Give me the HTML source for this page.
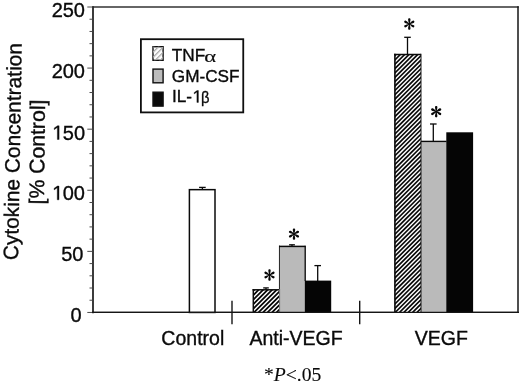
<!DOCTYPE html>
<html><head><meta charset="utf-8">
<style>
html,body{margin:0;padding:0;background:#fff;}
body{width:520px;height:384px;overflow:hidden;}
svg{display:block;will-change:transform;}
text{font-family:"Liberation Sans",sans-serif;fill:#0a0a0a;stroke:#0a0a0a;stroke-width:0.35px;}
.serif{font-family:"Liberation Serif",serif;stroke-width:0.12px;}
</style></head>
<body>
<svg width="520" height="384" viewBox="0 0 520 384">
<defs>
<pattern id="hL" width="3.6" height="20" patternUnits="userSpaceOnUse" patternTransform="rotate(45) translate(0.5,0)"><rect x="0" y="0" width="1.3" height="20" fill="#aaa"/></pattern>
</defs>
<g stroke="#151515" fill="none">
<line x1="92.1" y1="7.0" x2="518.75" y2="7.0" stroke-width="1.5" stroke="#333"/>
<line x1="518" y1="6.2" x2="518" y2="313.1" stroke-width="1.5"/>
<line x1="93" y1="6.2" x2="93" y2="313.2" stroke-width="1.8" stroke="#262626"/>
<line x1="92.1" y1="312.45" x2="518.75" y2="312.45" stroke-width="1.3"/>
</g>
<g stroke="#4a4a4a" stroke-width="1.0">
<line x1="87.3" y1="312.45" x2="92.5" y2="312.45"/>
<line x1="89.5" y1="300.23" x2="92.5" y2="300.23"/>
<line x1="89.5" y1="288.01" x2="92.5" y2="288.01"/>
<line x1="89.5" y1="275.80" x2="92.5" y2="275.80"/>
<line x1="89.5" y1="263.58" x2="92.5" y2="263.58"/>
<line x1="87.3" y1="251.36" x2="92.5" y2="251.36"/>
<line x1="89.5" y1="239.14" x2="92.5" y2="239.14"/>
<line x1="89.5" y1="226.92" x2="92.5" y2="226.92"/>
<line x1="89.5" y1="214.71" x2="92.5" y2="214.71"/>
<line x1="89.5" y1="202.49" x2="92.5" y2="202.49"/>
<line x1="87.3" y1="190.27" x2="92.5" y2="190.27"/>
<line x1="89.5" y1="178.05" x2="92.5" y2="178.05"/>
<line x1="89.5" y1="165.83" x2="92.5" y2="165.83"/>
<line x1="89.5" y1="153.62" x2="92.5" y2="153.62"/>
<line x1="89.5" y1="141.40" x2="92.5" y2="141.40"/>
<line x1="87.3" y1="129.18" x2="92.5" y2="129.18"/>
<line x1="89.5" y1="116.96" x2="92.5" y2="116.96"/>
<line x1="89.5" y1="104.74" x2="92.5" y2="104.74"/>
<line x1="89.5" y1="92.53" x2="92.5" y2="92.53"/>
<line x1="89.5" y1="80.31" x2="92.5" y2="80.31"/>
<line x1="87.3" y1="68.09" x2="92.5" y2="68.09"/>
<line x1="89.5" y1="55.87" x2="92.5" y2="55.87"/>
<line x1="89.5" y1="43.65" x2="92.5" y2="43.65"/>
<line x1="89.5" y1="31.44" x2="92.5" y2="31.44"/>
<line x1="89.5" y1="19.22" x2="92.5" y2="19.22"/>
<line x1="87.3" y1="7.00" x2="92.5" y2="7.00"/>
</g>
<g font-size="20" text-anchor="end">
<text x="85.0" y="16.9">250</text>
<text x="85.0" y="77.6">200</text>
<path d="M575 0V1237L257 1010V1180L590 1409H756V0Z" transform="translate(51.73,139.5) scale(0.009766,-0.009766)" fill="#0a0a0a" stroke="#0a0a0a" stroke-width="35.8"/>
<text x="85.1" y="139.5">50</text>
<path d="M575 0V1237L257 1010V1180L590 1409H756V0Z" transform="translate(51.63,199.8) scale(0.009766,-0.009766)" fill="#0a0a0a" stroke="#0a0a0a" stroke-width="35.8"/>
<text x="85.0" y="199.8">00</text>
<text x="83.5" y="261.2">50</text>
<text x="81.7" y="322.2">0</text>
</g>
<g font-size="20.9" text-anchor="middle">
<text transform="translate(19.9,151.8) rotate(-89.05)">Cytokine Concentration</text>
<text transform="translate(44.5,152.1) rotate(-89.4)" font-size="21.2">[% Control]</text>
</g>
<g stroke="#151515" stroke-width="1.4">
<line x1="232" y1="300.8" x2="232" y2="324.3"/>
<line x1="359.7" y1="300.8" x2="359.7" y2="324.3"/>
</g>
<line x1="202.4" y1="187.4" x2="202.4" y2="189.7" stroke="#0a0a0a" stroke-width="1.3"/><line x1="199.10" y1="187.4" x2="205.70" y2="187.4" stroke="#0a0a0a" stroke-width="1.3"/>
<rect x="189.4" y="189.65" width="25.60" height="122.80" fill="#fff" stroke="#0a0a0a" stroke-width="1.5"/>
<line x1="266.0" y1="287.9" x2="266.0" y2="289.8" stroke="#0a0a0a" stroke-width="1.3"/><line x1="263.20" y1="287.9" x2="268.80" y2="287.9" stroke="#0a0a0a" stroke-width="1.3"/>
<line x1="292.0" y1="244.8" x2="292.0" y2="246.4" stroke="#0a0a0a" stroke-width="1.3"/><line x1="289.10" y1="244.8" x2="294.90" y2="244.8" stroke="#0a0a0a" stroke-width="1.3"/>
<line x1="317.7" y1="265.6" x2="317.7" y2="281.0" stroke="#0a0a0a" stroke-width="1.3"/><line x1="314.40" y1="265.6" x2="321.00" y2="265.6" stroke="#0a0a0a" stroke-width="1.3"/>
<g clip-path="url(#cA)"><rect x="253.30" y="289.80" width="26.10" height="22.65" fill="#080808"/><path d="M222.750,314.450L249.400,287.800M227.250,314.450L253.900,287.800M231.750,314.450L258.400,287.800M236.250,314.450L262.900,287.800M240.750,314.450L267.400,287.800M245.250,314.450L271.900,287.800M249.750,314.450L276.400,287.800M254.250,314.450L280.900,287.800M258.750,314.450L285.400,287.800M263.250,314.450L289.900,287.800M267.750,314.450L294.400,287.800M272.250,314.450L298.900,287.800M276.750,314.450L303.400,287.800M281.250,314.450L307.900,287.800M285.750,314.450L312.400,287.800" stroke="#fff" stroke-width="1.432" fill="none"/></g>
<rect x="279.40" y="246.40" width="26.20" height="66.05" fill="#bababa"/>
<rect x="304.85" y="280.60" width="26.35" height="31.85" fill="#050505"/>
<line x1="253.30" y1="289.05" x2="253.30" y2="312.45" stroke="#0a0a0a" stroke-width="1.5"/>
<line x1="252.55" y1="289.80" x2="279.40" y2="289.80" stroke="#0a0a0a" stroke-width="1.5"/>
<line x1="279.45" y1="245.65" x2="279.45" y2="289.00" stroke="#222" stroke-width="1.0"/>
<line x1="279.60" y1="289.00" x2="279.60" y2="312.45" stroke="#666" stroke-width="0.9"/>
<line x1="279.00" y1="246.40" x2="305.60" y2="246.40" stroke="#0a0a0a" stroke-width="1.5"/>
<line x1="305.20" y1="245.65" x2="305.20" y2="281.00" stroke="#0a0a0a" stroke-width="1.3"/>
<line x1="407.5" y1="37.3" x2="407.5" y2="54.5" stroke="#0a0a0a" stroke-width="1.3"/><line x1="404.20" y1="37.3" x2="410.80" y2="37.3" stroke="#0a0a0a" stroke-width="1.3"/>
<line x1="433.3" y1="124.0" x2="433.3" y2="141.4" stroke="#0a0a0a" stroke-width="1.3"/><line x1="430.00" y1="124.0" x2="436.60" y2="124.0" stroke="#0a0a0a" stroke-width="1.3"/>
<g clip-path="url(#cV)"><rect x="394.90" y="54.50" width="26.10" height="257.95" fill="#080808"/><path d="M129.476,314.450L391.426,52.500M133.834,314.450L395.784,52.500M138.192,314.450L400.142,52.500M142.550,314.450L404.500,52.500M146.908,314.450L408.858,52.500M151.266,314.450L413.216,52.500M155.624,314.450L417.574,52.500M159.982,314.450L421.932,52.500M164.340,314.450L426.290,52.500M168.698,314.450L430.648,52.500M173.056,314.450L435.006,52.500M177.414,314.450L439.364,52.500M181.772,314.450L443.722,52.500M186.130,314.450L448.080,52.500M190.488,314.450L452.438,52.500M194.846,314.450L456.796,52.500M199.204,314.450L461.154,52.500M203.562,314.450L465.512,52.500M207.920,314.450L469.870,52.500M212.278,314.450L474.228,52.500M216.636,314.450L478.586,52.500M220.994,314.450L482.944,52.500M225.352,314.450L487.302,52.500M229.710,314.450L491.660,52.500M234.068,314.450L496.018,52.500M238.426,314.450L500.376,52.500M242.784,314.450L504.734,52.500M247.142,314.450L509.092,52.500M251.500,314.450L513.450,52.500M255.858,314.450L517.808,52.500M260.216,314.450L522.166,52.500M264.574,314.450L526.524,52.500M268.932,314.450L530.882,52.500M273.290,314.450L535.240,52.500M277.648,314.450L539.598,52.500M282.006,314.450L543.956,52.500M286.364,314.450L548.314,52.500M290.722,314.450L552.672,52.500M295.080,314.450L557.030,52.500M299.438,314.450L561.388,52.500M303.796,314.450L565.746,52.500M308.154,314.450L570.104,52.500M312.512,314.450L574.462,52.500M316.870,314.450L578.820,52.500M321.228,314.450L583.178,52.500M325.586,314.450L587.536,52.500M329.944,314.450L591.894,52.500M334.302,314.450L596.252,52.500M338.660,314.450L600.610,52.500M343.018,314.450L604.968,52.500M347.376,314.450L609.326,52.500M351.734,314.450L613.684,52.500M356.092,314.450L618.042,52.500M360.450,314.450L622.400,52.500M364.808,314.450L626.758,52.500M369.166,314.450L631.116,52.500M373.524,314.450L635.474,52.500M377.882,314.450L639.832,52.500M382.240,314.450L644.190,52.500M386.598,314.450L648.548,52.500M390.956,314.450L652.906,52.500M395.314,314.450L657.264,52.500M399.672,314.450L661.622,52.500M404.030,314.450L665.980,52.500M408.388,314.450L670.338,52.500M412.746,314.450L674.696,52.500M417.104,314.450L679.054,52.500M421.462,314.450L683.412,52.500M425.820,314.450L687.770,52.500" stroke="#fff" stroke-width="1.418" fill="none"/></g>
<rect x="421.00" y="141.40" width="25.60" height="171.05" fill="#bababa"/>
<rect x="446.30" y="132.30" width="26.80" height="180.15" fill="#050505"/>
<line x1="394.90" y1="53.70" x2="394.90" y2="312.45" stroke="#0a0a0a" stroke-width="1.6"/>
<line x1="394.10" y1="54.50" x2="421.00" y2="54.50" stroke="#0a0a0a" stroke-width="1.5"/>
<line x1="421.00" y1="53.75" x2="421.00" y2="312.45" stroke="#1a1a1a" stroke-width="1.0"/>
<line x1="420.80" y1="141.40" x2="446.60" y2="141.40" stroke="#0a0a0a" stroke-width="1.4"/>
<line x1="92.1" y1="312.45" x2="518.75" y2="312.45" stroke="#151515" stroke-width="1.3"/>
<g transform="translate(269.5,275.0) scale(1.0)" fill="#080808"><circle r="0.95"/><path d="M-0.42,0 C-0.6,-1.6 -1.25,-3.3 -1.18,-4.65 C-1.1,-6.05 1.1,-6.05 1.18,-4.65 C1.25,-3.3 0.6,-1.6 0.42,0 Z" transform="rotate(0)"/><path d="M-0.42,0 C-0.6,-1.6 -1.25,-3.3 -1.18,-4.65 C-1.1,-6.05 1.1,-6.05 1.18,-4.65 C1.25,-3.3 0.6,-1.6 0.42,0 Z" transform="rotate(60)"/><path d="M-0.42,0 C-0.6,-1.6 -1.25,-3.3 -1.18,-4.65 C-1.1,-6.05 1.1,-6.05 1.18,-4.65 C1.25,-3.3 0.6,-1.6 0.42,0 Z" transform="rotate(120)"/><path d="M-0.42,0 C-0.6,-1.6 -1.25,-3.3 -1.18,-4.65 C-1.1,-6.05 1.1,-6.05 1.18,-4.65 C1.25,-3.3 0.6,-1.6 0.42,0 Z" transform="rotate(180)"/><path d="M-0.42,0 C-0.6,-1.6 -1.25,-3.3 -1.18,-4.65 C-1.1,-6.05 1.1,-6.05 1.18,-4.65 C1.25,-3.3 0.6,-1.6 0.42,0 Z" transform="rotate(240)"/><path d="M-0.42,0 C-0.6,-1.6 -1.25,-3.3 -1.18,-4.65 C-1.1,-6.05 1.1,-6.05 1.18,-4.65 C1.25,-3.3 0.6,-1.6 0.42,0 Z" transform="rotate(300)"/></g>
<g transform="translate(294.0,234.1) scale(1.0)" fill="#080808"><circle r="0.95"/><path d="M-0.42,0 C-0.6,-1.6 -1.25,-3.3 -1.18,-4.65 C-1.1,-6.05 1.1,-6.05 1.18,-4.65 C1.25,-3.3 0.6,-1.6 0.42,0 Z" transform="rotate(0)"/><path d="M-0.42,0 C-0.6,-1.6 -1.25,-3.3 -1.18,-4.65 C-1.1,-6.05 1.1,-6.05 1.18,-4.65 C1.25,-3.3 0.6,-1.6 0.42,0 Z" transform="rotate(60)"/><path d="M-0.42,0 C-0.6,-1.6 -1.25,-3.3 -1.18,-4.65 C-1.1,-6.05 1.1,-6.05 1.18,-4.65 C1.25,-3.3 0.6,-1.6 0.42,0 Z" transform="rotate(120)"/><path d="M-0.42,0 C-0.6,-1.6 -1.25,-3.3 -1.18,-4.65 C-1.1,-6.05 1.1,-6.05 1.18,-4.65 C1.25,-3.3 0.6,-1.6 0.42,0 Z" transform="rotate(180)"/><path d="M-0.42,0 C-0.6,-1.6 -1.25,-3.3 -1.18,-4.65 C-1.1,-6.05 1.1,-6.05 1.18,-4.65 C1.25,-3.3 0.6,-1.6 0.42,0 Z" transform="rotate(240)"/><path d="M-0.42,0 C-0.6,-1.6 -1.25,-3.3 -1.18,-4.65 C-1.1,-6.05 1.1,-6.05 1.18,-4.65 C1.25,-3.3 0.6,-1.6 0.42,0 Z" transform="rotate(300)"/></g>
<g transform="translate(409.3,24.0) scale(1.0)" fill="#080808"><circle r="0.95"/><path d="M-0.42,0 C-0.6,-1.6 -1.25,-3.3 -1.18,-4.65 C-1.1,-6.05 1.1,-6.05 1.18,-4.65 C1.25,-3.3 0.6,-1.6 0.42,0 Z" transform="rotate(0)"/><path d="M-0.42,0 C-0.6,-1.6 -1.25,-3.3 -1.18,-4.65 C-1.1,-6.05 1.1,-6.05 1.18,-4.65 C1.25,-3.3 0.6,-1.6 0.42,0 Z" transform="rotate(60)"/><path d="M-0.42,0 C-0.6,-1.6 -1.25,-3.3 -1.18,-4.65 C-1.1,-6.05 1.1,-6.05 1.18,-4.65 C1.25,-3.3 0.6,-1.6 0.42,0 Z" transform="rotate(120)"/><path d="M-0.42,0 C-0.6,-1.6 -1.25,-3.3 -1.18,-4.65 C-1.1,-6.05 1.1,-6.05 1.18,-4.65 C1.25,-3.3 0.6,-1.6 0.42,0 Z" transform="rotate(180)"/><path d="M-0.42,0 C-0.6,-1.6 -1.25,-3.3 -1.18,-4.65 C-1.1,-6.05 1.1,-6.05 1.18,-4.65 C1.25,-3.3 0.6,-1.6 0.42,0 Z" transform="rotate(240)"/><path d="M-0.42,0 C-0.6,-1.6 -1.25,-3.3 -1.18,-4.65 C-1.1,-6.05 1.1,-6.05 1.18,-4.65 C1.25,-3.3 0.6,-1.6 0.42,0 Z" transform="rotate(300)"/></g>
<g transform="translate(436.2,111.7) scale(1.0)" fill="#080808"><circle r="0.95"/><path d="M-0.42,0 C-0.6,-1.6 -1.25,-3.3 -1.18,-4.65 C-1.1,-6.05 1.1,-6.05 1.18,-4.65 C1.25,-3.3 0.6,-1.6 0.42,0 Z" transform="rotate(0)"/><path d="M-0.42,0 C-0.6,-1.6 -1.25,-3.3 -1.18,-4.65 C-1.1,-6.05 1.1,-6.05 1.18,-4.65 C1.25,-3.3 0.6,-1.6 0.42,0 Z" transform="rotate(60)"/><path d="M-0.42,0 C-0.6,-1.6 -1.25,-3.3 -1.18,-4.65 C-1.1,-6.05 1.1,-6.05 1.18,-4.65 C1.25,-3.3 0.6,-1.6 0.42,0 Z" transform="rotate(120)"/><path d="M-0.42,0 C-0.6,-1.6 -1.25,-3.3 -1.18,-4.65 C-1.1,-6.05 1.1,-6.05 1.18,-4.65 C1.25,-3.3 0.6,-1.6 0.42,0 Z" transform="rotate(180)"/><path d="M-0.42,0 C-0.6,-1.6 -1.25,-3.3 -1.18,-4.65 C-1.1,-6.05 1.1,-6.05 1.18,-4.65 C1.25,-3.3 0.6,-1.6 0.42,0 Z" transform="rotate(240)"/><path d="M-0.42,0 C-0.6,-1.6 -1.25,-3.3 -1.18,-4.65 C-1.1,-6.05 1.1,-6.05 1.18,-4.65 C1.25,-3.3 0.6,-1.6 0.42,0 Z" transform="rotate(300)"/></g>
<rect x="140.9" y="39.2" width="102.35" height="73.2" fill="#fff" stroke="#0f0f0f" stroke-width="1.8"/>
<rect x="153.0" y="46.7" width="10.1" height="13.6" fill="#fff" stroke="#0f0f0f" stroke-width="1.4"/>
<rect x="153.0" y="46.7" width="10.1" height="13.6" fill="url(#hL)"/>
<rect x="153.0" y="69.1" width="10.1" height="13.7" fill="#bcbcbc" stroke="#0f0f0f" stroke-width="1.4"/>
<rect x="153.0" y="92.2" width="10.1" height="13.9" fill="#0a0a0a" stroke="#0f0f0f" stroke-width="1.4"/>
<g font-size="17.2">
<text x="171.8" y="61.4">TNF</text>
<text class="serif" font-size="17.5" transform="translate(204.2,61.7) scale(1.3,0.97)">α</text>
<text x="171.8" y="81.8">GM-CSF</text>
<text x="172.0" y="102.4">IL-</text>
<path d="M575 0V1237L257 1010V1180L590 1409H756V0Z" transform="translate(192.07,102.4) scale(0.008398,-0.008398)" fill="#0a0a0a" stroke="#0a0a0a" stroke-width="41.7"/>
<text transform="translate(200.9,102.6) scale(0.86,1)">β</text>
</g>
<g font-size="19.5" text-anchor="middle">
<text x="192.8" y="344.8">Control</text>
<text x="296.0" y="344.8">Anti-VEGF</text>
<text x="441.4" y="345.0">VEGF</text>
</g>
<text class="serif" x="292.6" y="380.5" font-size="19.6" text-anchor="middle">*<tspan font-style="italic">P</tspan>&lt;.05</text>
<defs><clipPath id="cA"><rect x="253.30" y="289.80" width="26.10" height="22.65"/></clipPath><clipPath id="cV"><rect x="394.90" y="54.50" width="26.10" height="257.95"/></clipPath></defs>
</svg>
</body></html>
